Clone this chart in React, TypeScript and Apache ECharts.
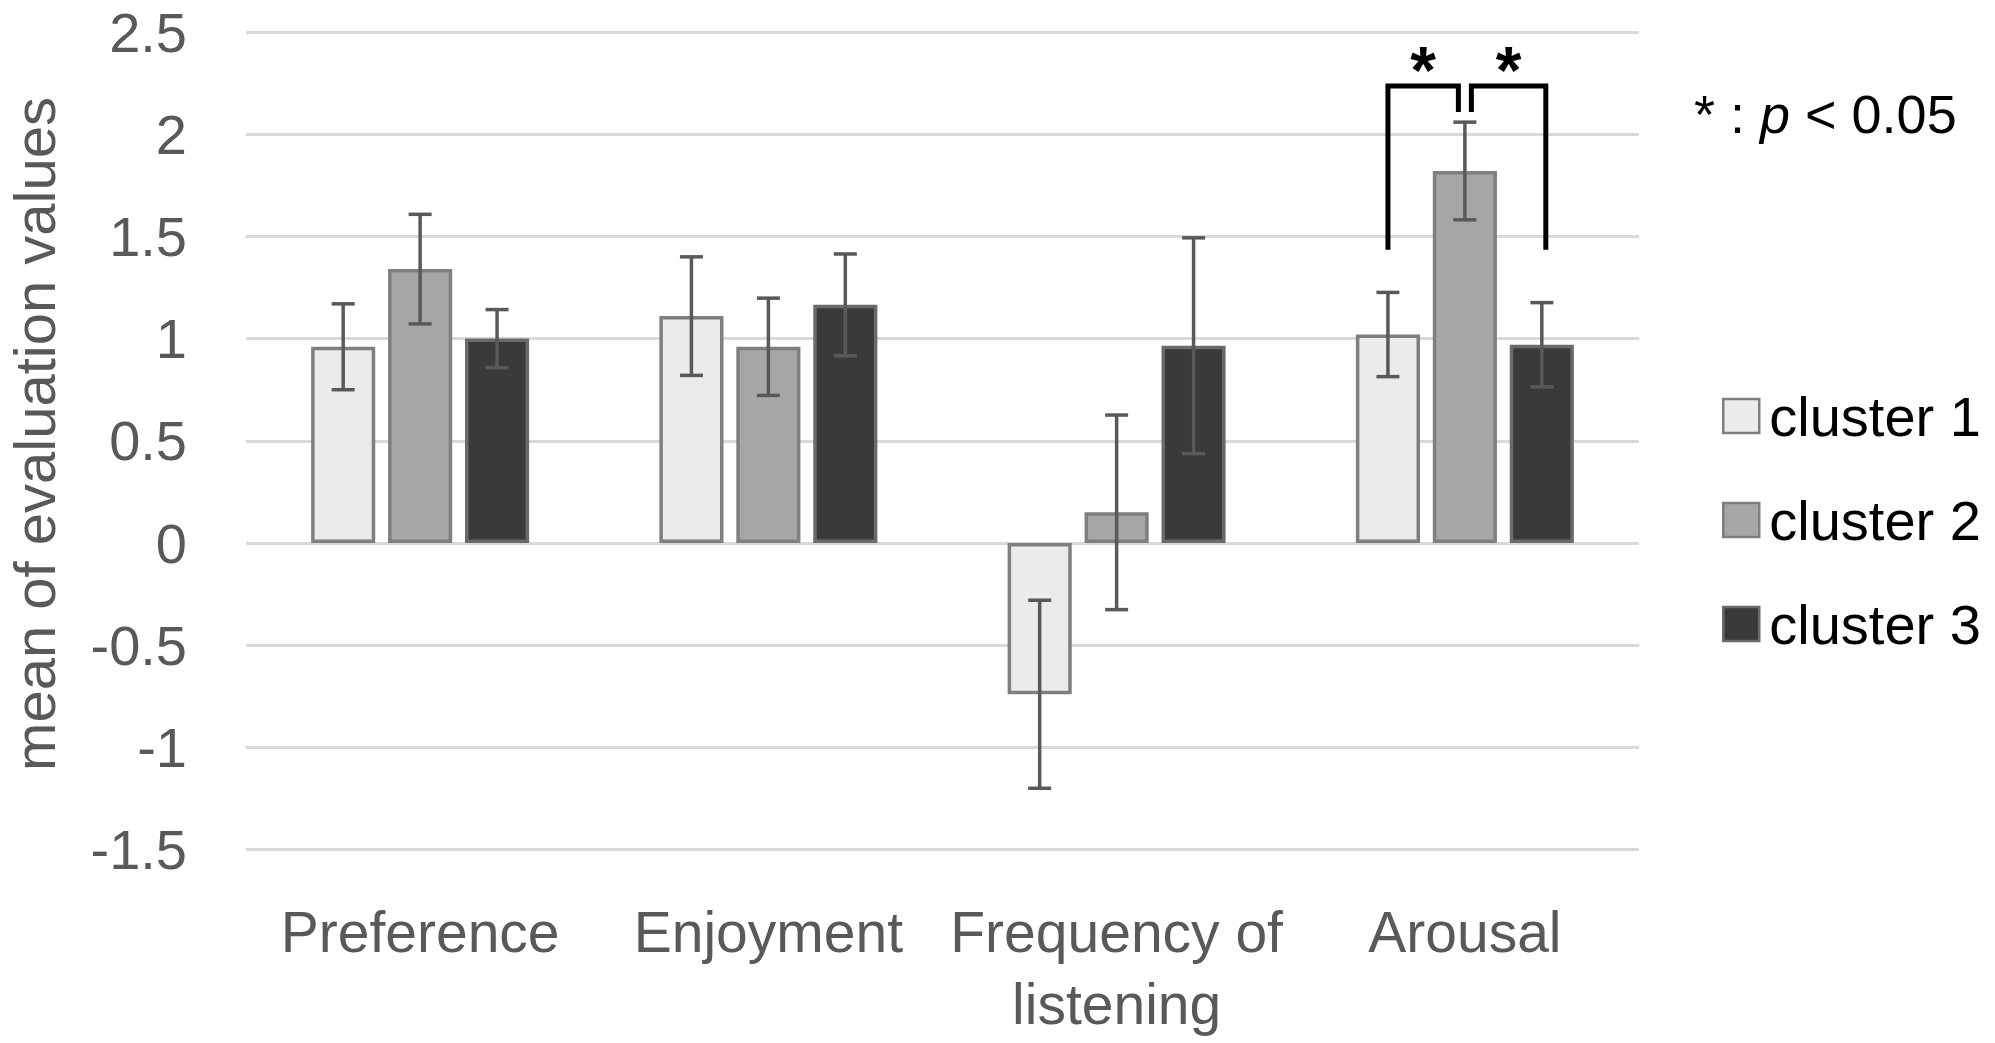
import React, { useEffect, useRef } from "react";
import * as echarts from "echarts";

const categories = ["Preference", "Enjoyment", "Frequency of\nlistening", "Arousal"];
const clusterNames = ["cluster 1", "cluster 2", "cluster 3"];
const cluster1Means = [0.96, 1.11, -0.74, 1.02];
const cluster2Means = [1.34, 0.96, 0.15, 1.82];
const cluster3Means = [1.0, 1.165, 0.965, 0.97];
const cluster1Errors = [0.21, 0.29, 0.46, 0.206];
const cluster2Errors = [0.268, 0.238, 0.476, 0.239];
const cluster3Errors = [0.142, 0.249, 0.528, 0.206];
const yAxisMin = -1.5;
const yAxisMax = 2.5;
const yAxisInterval = 0.5;
// significance bracket levels: top bar, inner drop end, outer leg end
const bracketLevels = [2.236, 2.108, 1.435];
const significanceCategory = 3;
const significanceMarks = ["*", "*"];
const yAxisTitle = "mean of evaluation values";
const noteText = ["* : ", "p", " < 0.05"];

const fillColors = ["#ebebeb", "#a6a6a6", "#3a3a3a"];
const borderColors = ["#7f7f7f", "#7f7f7f", "#6a6a6a"];
const FONT = "Liberation Sans, Arial, sans-serif";
const CAT_GAP = 0.374;
const BAR_GAP = 0.2;

export default function App() {
  const ref = useRef<HTMLDivElement>(null);
  useEffect(() => {
    document.body.style.margin = "0";
    document.body.style.overflow = "hidden";
    const chart = echarts.init(ref.current!, null, { renderer: "svg" });
    const means = [cluster1Means, cluster2Means, cluster3Means];
    const errors = [cluster1Errors, cluster2Errors, cluster3Errors];

    const barWidthOf = (band: number) => (band * (1 - CAT_GAP)) / (3 + 2 * BAR_GAP);

    const barSeries = clusterNames.map((name, k) => ({
      name,
      type: "bar",
      data: means[k],
      barCategoryGap: CAT_GAP * 100 + "%",
      barGap: BAR_GAP * 100 + "%",
      itemStyle: { color: fillColors[k], borderColor: borderColors[k], borderWidth: 3.5 },
      z: 2,
    }));

    const errSeries = clusterNames.map((name, k) => ({
      name: "err " + name,
      type: "custom",
      z: 3,
      data: means[k].map((m, i) => [i, m - errors[k][i], m + errors[k][i]]),
      renderItem: (params: any, api: any) => {
        const idx = api.value(0);
        const cx = api.coord([idx, 0])[0];
        const band = api.size([1, 0])[0];
        const bw = barWidthOf(band);
        const x = cx + (k - 1) * bw * (1 + BAR_GAP);
        const yLo = api.coord([idx, api.value(1)])[1];
        const yHi = api.coord([idx, api.value(2)])[1];
        const st = { stroke: "#595959", lineWidth: 3.5 };
        const half = 11.5;
        return {
          type: "group",
          children: [
            { type: "line", shape: { x1: x, y1: yLo, x2: x, y2: yHi }, style: st },
            { type: "line", shape: { x1: x - half, y1: yHi, x2: x + half, y2: yHi }, style: st },
            { type: "line", shape: { x1: x - half, y1: yLo, x2: x + half, y2: yLo }, style: st },
          ],
        };
      },
    }));

    const bracketSeries = {
      name: "significance",
      type: "custom",
      z: 4,
      clip: false,
      data: [[significanceCategory, ...bracketLevels]],
      renderItem: (params: any, api: any) => {
        const idx = api.value(0);
        const cx = api.coord([idx, 0])[0];
        const band = api.size([1, 0])[0];
        const bw = barWidthOf(band);
        const step = bw * (1 + BAR_GAP);
        const yTop = api.coord([idx, api.value(1)])[1];
        const yInner = api.coord([idx, api.value(2)])[1];
        const yOuter = api.coord([idx, api.value(3)])[1];
        const x1 = cx - step;
        const x2l = cx - 6.5;
        const x2r = cx + 6.5;
        const x3 = cx + step + 4;
        const st = { stroke: "#000", lineWidth: 5, fill: "none", lineJoin: "miter", lineCap: "butt" };
        const ts = { fontSize: 66, fontWeight: "bold", fontFamily: FONT, fill: "#000", align: "center", verticalAlign: "middle" };
        return {
          type: "group",
          children: [
            { type: "polyline", shape: { points: [[x1, yOuter], [x1, yTop], [x2l, yTop], [x2l, yInner]] }, style: st },
            { type: "polyline", shape: { points: [[x2r, yInner], [x2r, yTop], [x3, yTop], [x3, yOuter]] }, style: st },
            { type: "text", x: (x1 + x2l) / 2, y: yTop - 16, style: { ...ts, text: significanceMarks[0] } },
            { type: "text", x: (x2r + x3) / 2, y: yTop - 16, style: { ...ts, text: significanceMarks[1] } },
          ],
        };
      },
    };

    chart.setOption({
      animation: false,
      backgroundColor: "#ffffff",
      grid: { left: 246, right: 356, top: 32, bottom: 193.4, containLabel: false },
      legend: {
        data: clusterNames,
        orient: "vertical",
        left: 1717,
        top: 383,
        itemWidth: 36,
        itemHeight: 34,
        itemGap: 48,
        icon: "rect",
        itemStyle: { borderWidth: 2.5 },
        textStyle: { fontSize: 56, lineHeight: 56, color: "#000", fontFamily: FONT, padding: [0, 0, 0, 5] },
        selectedMode: false,
      },
      xAxis: {
        type: "category",
        data: categories,
        axisLine: { show: false },
        axisTick: { show: false },
        axisLabel: {
          interval: 0,
          fontSize: 57,
          lineHeight: 72,
          color: "#595959",
          fontFamily: FONT,
          margin: 46,
        },
        splitLine: { show: false },
      },
      yAxis: {
        type: "value",
        min: yAxisMin,
        max: yAxisMax,
        interval: yAxisInterval,
        axisLine: { show: false },
        axisTick: { show: false },
        axisLabel: { fontSize: 56, color: "#595959", fontFamily: FONT, margin: 59 },
        splitLine: { lineStyle: { color: "#d9d9d9", width: 3 } },
      },
      graphic: [
        {
          type: "text",
          x: 34,
          y: 434,
          rotation: Math.PI / 2,
          style: {
            text: yAxisTitle,
            fontSize: 58,
            fontFamily: FONT,
            fill: "#595959",
            align: "center",
            verticalAlign: "middle",
          },
        },
        {
          type: "text",
          x: 1694,
          y: 114,
          style: {
            text: "{a|" + noteText[0] + "}{i|" + noteText[1] + "}{a|" + noteText[2] + "}",
            fontFamily: FONT,
            fontSize: 54,
            fill: "#000",
            align: "left",
            verticalAlign: "middle",
            rich: {
              a: { fontSize: 54, fontFamily: FONT, fill: "#000" },
              i: { fontSize: 54, fontFamily: FONT, fill: "#000", fontStyle: "italic" },
            },
          },
        },
      ],
      series: [...barSeries, ...errSeries, bracketSeries],
    });
    return () => chart.dispose();
  }, []);
  return <div ref={ref} style={{ width: 1995, height: 1043 }} />;
}
